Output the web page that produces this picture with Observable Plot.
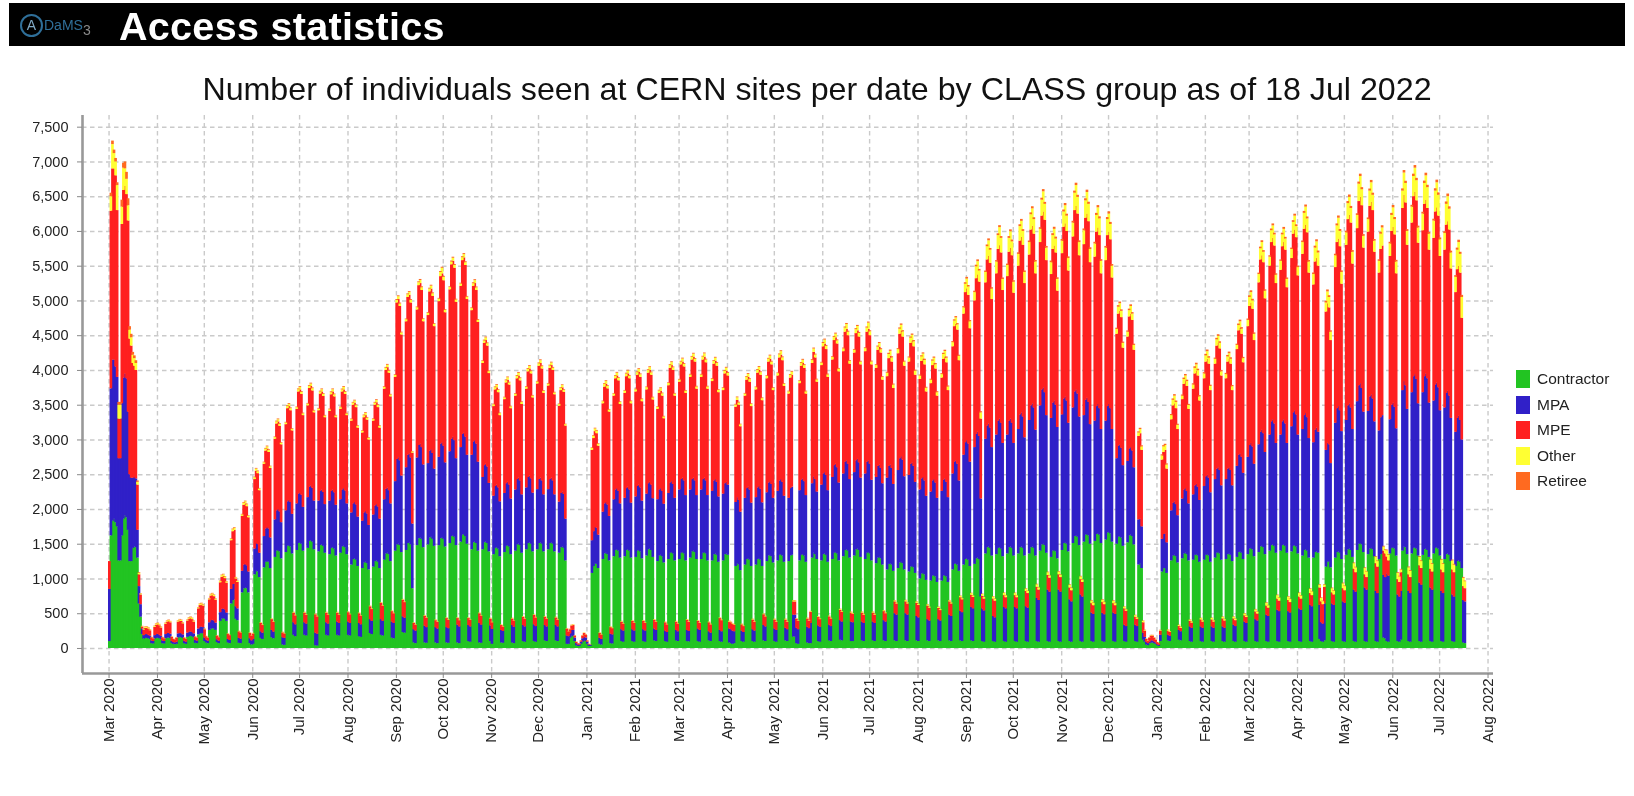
<!DOCTYPE html>
<html><head><meta charset="utf-8">
<script src="https://cdn.jsdelivr.net/npm/d3@7"></script>
<script src="https://cdn.jsdelivr.net/npm/@observablehq/plot@0.6"></script>
<style>
html,body{margin:0;padding:0;background:#fff;overflow:hidden;font-family:"Liberation Sans",Arial,sans-serif}
#page{position:relative;width:1634px;height:796px;filter:blur(.45px)}
#bar{position:absolute;left:9px;top:3px;width:1616px;height:43px;background:#000;color:#fff}
#bar .t{position:absolute;left:110px;top:1px;font-size:39.5px;font-weight:bold;line-height:45px;letter-spacing:.3px}
#logo{position:absolute;left:11px;top:11px;width:19px;height:19px;border:2px solid #2f6f99;border-radius:50%;color:#7fa8c4;font-size:14px;line-height:19px;text-align:center;box-sizing:content-box}
#dams{position:absolute;left:35px;top:13px;color:#2f6f99;font-size:14px;line-height:18px}
#dams sub{font-size:14px;color:#8a8a8a;vertical-align:-5px;line-height:0}
#title{position:absolute;left:0;width:1634px;top:70px;text-align:center;font-size:32.2px;line-height:38px;color:#111}
#chart{position:absolute;left:0;top:100px}
#legend{position:absolute;left:1516px;top:370px;font-size:15.5px;color:#222}
#legend div{position:relative;height:25.5px;line-height:18px;padding-left:21px}
#legend i{position:absolute;left:0;top:0;width:14px;height:18px}
</style></head><body><div id="page">
<div id="bar"><div id="logo">A</div><div id="dams">DaMS<sub>3</sub></div><div class="t">Access statistics</div></div>
<div id="title">Number of individuals seen at CERN sites per date by CLASS group as of 18 Jul 2022</div>
<div id="chart"></div><div id="legend"></div></div>
<script>
const groups=["Contractor","MPA","MPE","Other","Retiree"];
const colors=["#22c422","#3020c8","#ff2020","#ffff33","#ff6a20"];
// Daily head counts from Sun 1 Mar 2020; after the first value each row is one Mon..Sun week.
const contractor=[100,
1620,1830,1860,1810,1750,1260,1260,
1620,1860,1910,1880,1700,1250,1250,
1440,1460,1450,1300,640,450,200,
135,145,145,140,130,70,65,
135,145,148,142,130,70,65,
140,150,152,145,70,60,55,
60,150,160,158,145,70,60,
160,172,175,170,155,75,70,
195,212,215,210,100,80,70,
260,280,285,280,260,85,70,
390,425,430,420,390,80,70,
640,690,700,420,400,75,70,
800,860,870,860,800,70,50,
60,1060,1110,1100,1020,145,130,
1160,1240,1250,1240,1150,155,140,
1310,1400,1410,1390,1290,50,45,
1380,1470,1480,1460,1360,190,170,
1410,1510,1520,1500,1400,190,180,
1440,1540,1550,1530,1420,40,35,
1390,1480,1490,1470,1370,190,180,
1350,1440,1450,1430,1330,190,180,
1370,1460,1470,1450,1350,190,180,
1200,1280,1290,1270,1180,170,160,
1150,1230,1240,1220,1130,215,200,
1170,1250,1260,1240,1150,190,180,
1270,1360,1370,1350,1250,150,140,
1400,1490,1500,1480,1380,230,220,
1410,1510,1520,1490,860,80,70,
1480,1580,1590,1570,1450,80,75,
1490,1590,1600,1570,1470,80,70,
1480,1580,1590,1570,1460,80,75,
1510,1610,1620,1600,1480,80,70,
1530,1630,1640,1610,1500,100,90,
1420,1520,1530,1510,1400,80,75,
1420,1520,1530,1510,1390,100,60,
1350,1440,1450,1430,1320,80,75,
1380,1470,1480,1460,1350,80,70,
1400,1490,1500,1480,1370,100,90,
1420,1510,1520,1500,1390,100,90,
1420,1510,1520,1500,1390,110,100,
1420,1510,1520,1500,1390,110,100,
1370,1450,1460,1440,1260,60,60,
150,175,170,100,40,30,30,
60,90,110,100,60,30,30,
1080,1180,1220,1210,1150,60,50,
1280,1360,1370,1350,1260,70,65,
1320,1410,1420,1400,1300,100,90,
1320,1410,1420,1400,1300,100,90,
1310,1400,1410,1390,1290,100,90,
1330,1420,1430,1410,1310,110,100,
1250,1330,1340,1320,1230,100,90,
1280,1370,1380,1360,1260,110,100,
1280,1370,1380,1360,1260,100,95,
1300,1390,1400,1380,1280,100,90,
1280,1370,1380,1360,1260,110,100,
1260,1350,1360,1340,1240,100,90,
1260,1350,1360,1340,80,70,60,
70,1180,1220,1200,1120,100,90,
1200,1280,1290,1270,1180,100,90,
1200,1280,1290,1270,1180,110,100,
1250,1330,1340,1320,1230,100,90,
1260,1340,1350,1330,1240,110,100,
1250,1330,1340,165,165,70,60,
1260,1340,1350,1330,1240,80,70,
70,1300,1370,1350,1280,100,90,
1260,1350,1360,1340,1240,110,100,
1280,1370,1380,1360,1260,120,110,
1320,1410,1420,1400,1300,100,100,
1330,1420,1430,1410,1310,110,100,
1280,1370,1380,1360,1260,110,100,
1220,1300,1310,1290,1200,110,100,
1130,1210,1220,1200,1110,110,100,
1150,1230,1240,1220,1130,110,100,
1100,1170,1180,1160,1080,110,100,
1000,1070,1080,1060,980,110,100,
970,1040,1050,1030,950,110,100,
970,1040,1050,1030,950,110,100,
1130,1210,1220,1200,1110,110,100,
1200,1280,1290,1270,1180,110,100,
1210,1290,1300,1280,740,100,90,
1360,1450,1460,1440,1330,100,90,
1350,1440,1450,1430,1320,100,90,
1360,1450,1460,1440,1330,100,90,
1360,1450,1460,1440,1330,100,90,
1360,1450,1460,1440,1330,100,90,
1400,1490,1500,1480,1370,100,90,
1310,1400,1410,1390,1290,100,90,
1410,1510,1520,1500,1390,100,90,
1510,1610,1620,1600,1480,100,90,
1530,1630,1640,1620,1500,100,90,
1540,1640,1650,1630,1510,100,90,
1560,1660,1670,1650,1530,100,90,
1500,1600,1610,1590,1470,100,90,
1520,1620,1630,1610,1490,100,90,
1200,1220,1150,120,90,50,40,
70,80,80,70,60,40,30,
100,1100,1150,1150,1080,110,100,
1260,1330,1340,1320,1230,120,110,
1290,1360,1370,1350,1260,100,90,
1270,1340,1350,1330,1240,100,90,
1270,1340,1350,1330,1240,100,90,
1300,1370,1380,1360,1270,100,90,
1280,1350,1360,1340,1250,100,90,
1310,1380,1390,1370,1280,100,90,
1350,1430,1440,1420,1320,100,90,
1380,1460,1470,1450,1350,100,90,
1400,1480,1490,1470,1370,100,90,
1400,1480,1490,1470,1370,100,90,
1390,1470,1480,1460,1360,100,90,
1330,1410,1420,1400,1300,100,90,
1300,1380,1390,1370,130,100,90,
110,1170,1240,1250,1160,100,90,
1300,1380,1390,1370,1280,100,90,
1340,1420,1430,1410,1310,100,90,
1410,1500,1510,1490,1380,100,90,
1350,1430,1440,1420,1320,100,90,
1280,1350,1360,150,140,100,90,
1360,1440,1450,1430,1330,100,90,
120,1400,1460,1450,1350,100,90,
1360,1440,1450,1430,1330,100,90,
1340,1420,1430,1410,1310,100,90,
1360,1440,1450,1430,1330,100,90,
1280,1350,1360,1340,1250,100,90,
1180,1250,1260,1240,1150,80,70];
const mpa=[750,
2115,2320,2290,2240,2150,1470,1470,
1900,2030,2040,2000,1700,1250,1200,
1010,1000,990,400,250,180,80,
50,55,55,50,45,40,35,
50,55,55,50,45,40,35,
60,65,65,60,30,25,25,
30,60,55,55,50,35,30,
60,65,65,60,55,40,35,
85,95,95,90,50,40,35,
110,120,120,115,105,40,35,
125,140,140,135,120,50,45,
210,230,230,180,170,70,65,
310,340,340,330,300,70,60,
70,370,400,395,350,95,90,
450,480,490,480,440,105,95,
540,580,590,575,520,105,100,
600,640,650,640,570,180,170,
670,710,720,705,630,180,170,
730,780,790,775,700,180,170,
730,780,790,775,700,180,170,
770,820,830,810,730,190,180,
770,820,830,815,730,190,180,
750,800,810,795,710,190,180,
680,720,730,715,640,200,190,
750,800,810,795,710,225,210,
870,930,940,920,830,230,220,
1000,1230,1245,1220,1100,225,215,
1190,1270,1280,1250,930,190,180,
1260,1340,1350,1320,1190,240,225,
1170,1250,1260,1235,1110,220,210,
1270,1360,1370,1340,1210,220,210,
1320,1400,1420,1390,1250,255,240,
1360,1450,1460,1430,1280,230,220,
1360,1450,1460,1430,1280,280,260,
1040,1110,1120,1100,985,225,215,
840,890,900,880,790,180,170,
850,900,910,890,800,250,235,
880,940,950,930,840,230,220,
890,950,960,940,845,240,225,
865,920,930,910,820,220,210,
865,920,930,910,820,220,210,
735,780,790,775,600,120,110,
60,85,90,50,30,20,20,
30,50,55,50,30,20,15,
470,500,520,520,480,85,80,
680,720,730,715,640,135,130,
820,870,880,860,780,170,160,
840,890,900,880,790,170,160,
870,930,940,920,830,170,160,
890,950,960,940,845,170,160,
890,950,960,940,845,150,140,
950,1010,1020,1000,900,150,140,
1000,1060,1070,1050,940,160,150,
980,1040,1050,1030,920,180,170,
1000,1060,1070,1050,940,130,120,
1000,1060,1070,1050,940,160,150,
960,1020,1030,1010,200,200,190,
170,920,950,930,840,150,140,
960,1020,1030,1010,910,170,160,
970,1030,1040,1020,915,220,210,
990,1050,1060,1040,930,180,170,
1000,1070,1080,1060,950,180,170,
910,970,980,315,315,220,210,
1010,1080,1090,1070,960,225,215,
290,1070,1100,1080,970,225,215,
1090,1160,1170,1150,1030,225,215,
1180,1260,1270,1240,1120,280,270,
1190,1270,1280,1250,1130,280,270,
1200,1280,1290,1260,1140,270,260,
1230,1310,1320,1290,1160,270,260,
1240,1320,1330,1300,1170,290,280,
1320,1410,1420,1390,1250,390,380,
1410,1500,1520,1490,1340,390,380,
1390,1480,1490,1460,1310,350,340,
1280,1370,1380,1350,1210,305,295,
1280,1370,1380,1350,1210,305,295,
1290,1380,1390,1360,1220,370,360,
1380,1470,1480,1450,1300,425,415,
1580,1680,1700,1670,1500,480,470,
1680,1790,1810,1770,1410,470,450,
1650,1750,1770,1730,1560,360,350,
1720,1830,1850,1810,1630,490,480,
1710,1820,1840,1800,1620,490,480,
1790,1910,1930,1890,1700,500,490,
1920,2040,2060,2020,1810,620,600,
2090,2230,2250,2200,1980,740,720,
2000,2130,2150,2110,1890,740,720,
1950,2080,2100,2060,1850,600,580,
1950,2080,2100,2060,1850,670,650,
1820,1940,1960,1920,1720,410,400,
1730,1840,1860,1820,1640,405,395,
1710,1820,1840,1800,1620,410,400,
1230,1310,1320,1290,1160,235,225,
1170,1250,1260,1230,1110,235,225,
650,640,600,100,70,40,30,
20,30,30,25,20,15,15,
90,470,490,500,440,80,75,
720,760,770,750,680,140,130,
860,920,930,910,820,210,200,
940,1000,1010,990,890,210,200,
1060,1130,1140,1120,1000,210,200,
1130,1210,1220,1200,1070,210,200,
1150,1230,1240,1220,1090,235,225,
1310,1400,1410,1380,1240,280,270,
1400,1490,1510,1480,1330,315,305,
1550,1650,1670,1640,1470,380,370,
1670,1780,1800,1760,1580,450,440,
1670,1780,1800,1760,1580,430,420,
1800,1920,1940,1900,1710,470,460,
1820,1940,1960,1920,1720,520,510,
1660,1760,1780,1740,490,270,260,
530,1680,1710,1680,1500,540,530,
1940,2070,2090,2050,1840,570,560,
1940,2070,2090,2050,1840,740,720,
2140,2280,2300,2250,2020,770,750,
2060,2190,2210,2170,1940,720,700,
1850,1970,1990,900,880,975,950,
1930,2060,2080,2040,1830,670,650,
700,2310,2380,2330,2090,720,700,
2320,2470,2490,2440,2190,840,820,
2340,2490,2520,2470,2220,770,750,
2200,2350,2370,2320,2090,720,700,
2180,2320,2340,2290,2060,670,650,
1930,2060,2080,2040,1850,610,600];
const mpe=[400,
2555,2750,2750,2750,2400,570,570,
2580,2700,2700,2650,2750,1950,1900,
1650,1600,1560,650,170,140,30,
80,90,90,90,80,45,40,
120,135,140,135,120,45,40,
150,165,170,165,60,45,40,
60,170,180,175,160,45,40,
175,185,190,185,170,50,45,
290,310,315,310,120,50,45,
330,355,360,350,330,55,50,
430,460,465,450,430,75,70,
700,760,770,400,380,95,90,
790,860,870,850,780,75,70,
80,1000,1040,1020,900,120,110,
1040,1120,1130,1100,1000,155,140,
1160,1250,1260,1230,1120,70,65,
1240,1340,1350,1320,1200,140,130,
1360,1470,1480,1450,1320,140,130,
1320,1420,1430,1400,1270,265,250,
1300,1400,1410,1380,1250,140,130,
1290,1390,1410,1380,1260,130,120,
1300,1410,1420,1390,1270,135,125,
1320,1420,1430,1400,1280,140,125,
1270,1370,1380,1350,1230,185,170,
1350,1450,1465,1430,1310,235,220,
1590,1710,1730,1690,1540,150,140,
1500,2250,2275,2220,2030,240,225,
2100,2270,2280,2230,1020,90,85,
2130,2300,2310,2260,2060,145,135,
2130,2290,2310,2260,2050,100,95,
2240,2410,2430,2380,2160,130,120,
2330,2510,2530,2480,2250,95,90,
2320,2500,2520,2470,2240,100,95,
2080,2240,2260,2210,2010,140,130,
1640,1760,1780,1740,1580,100,95,
1290,1390,1400,1370,1240,70,65,
1350,1450,1470,1440,1300,95,90,
1350,1450,1470,1440,1300,120,110,
1420,1520,1540,1510,1370,135,125,
1520,1630,1650,1610,1460,120,110,
1490,1600,1620,1590,1440,110,100,
1380,1480,1500,1470,1340,100,70,
60,65,70,30,20,15,15,
20,40,50,45,20,10,5,
1300,1340,1380,1360,1280,70,65,
1560,1680,1700,1670,1500,95,90,
1490,1600,1620,1590,1430,110,100,
1510,1610,1630,1600,1430,120,110,
1510,1600,1620,1590,1430,120,110,
1500,1590,1610,1580,1420,125,115,
1300,1390,1400,1370,1230,120,110,
1550,1650,1670,1640,1470,120,110,
1550,1650,1670,1640,1470,145,135,
1620,1720,1740,1710,1530,110,100,
1620,1720,1740,1700,1530,130,120,
1580,1680,1700,1670,1500,170,160,
1490,1580,1600,1570,100,100,95,
95,1370,1400,1370,1230,90,85,
1470,1560,1580,1550,1390,140,130,
1550,1650,1670,1640,1470,155,145,
1640,1740,1760,1720,1550,130,120,
1660,1770,1790,1750,1580,120,110,
1500,1590,1610,190,190,130,120,
1540,1640,1660,1630,1460,120,110,
160,1730,1790,1750,1580,120,110,
1720,1830,1850,1810,1630,120,110,
1690,1800,1820,1780,1600,150,140,
1760,1870,1890,1850,1660,130,120,
1720,1830,1850,1810,1630,130,120,
1760,1870,1890,1850,1660,130,120,
1570,1670,1690,1660,1490,130,120,
1460,1550,1565,1530,1380,170,160,
1680,1790,1805,1770,1590,170,160,
1630,1740,1755,1720,1540,190,180,
1590,1690,1705,1670,1500,195,185,
1560,1660,1675,1640,1470,160,150,
1630,1740,1755,1720,1540,190,180,
1830,1950,1965,1930,1730,195,185,
2030,2160,2185,2140,1920,175,165,
2110,2240,2265,2220,1150,180,170,
2250,2390,2415,2370,2130,250,240,
2320,2470,2495,2450,2200,170,160,
2280,2430,2455,2410,2160,170,160,
2350,2500,2525,2470,2220,220,210,
2380,2530,2555,2500,2250,160,150,
2350,2500,2530,2480,2230,210,200,
2070,2210,2230,2190,1960,220,210,
2320,2470,2490,2440,2190,170,160,
2460,2610,2640,2590,2320,220,210,
2460,2620,2650,2600,2330,135,125,
2360,2510,2540,2490,2240,155,145,
2310,2460,2480,2430,2180,135,125,
1790,1900,1920,1880,1690,235,220,
1790,1900,1920,1880,1690,115,105,
1200,1230,1100,150,90,40,30,
60,70,70,55,40,30,25,
60,1140,1180,1200,1060,60,55,
1310,1400,1410,1380,1240,55,50,
1430,1520,1540,1510,1360,80,75,
1520,1610,1630,1600,1430,100,90,
1550,1650,1670,1640,1470,100,90,
1660,1770,1790,1750,1580,115,105,
1450,1540,1560,1530,1370,90,85,
1680,1790,1810,1770,1590,90,85,
1880,2000,2020,1980,1780,110,100,
2330,2480,2510,2460,2210,130,120,
2430,2580,2610,2560,2300,160,150,
2370,2520,2550,2500,2240,160,150,
2420,2570,2600,2550,2290,170,160,
2520,2680,2710,2660,2380,170,160,
2270,2420,2440,2390,250,300,280,
240,1990,2010,1970,1770,160,150,
2240,2390,2410,2360,2120,190,180,
2520,2680,2710,2660,2380,300,280,
2490,2650,2680,2630,2360,190,180,
2580,2740,2770,2710,2440,400,380,
2270,2420,2440,350,340,240,220,
2350,2500,2530,2480,2230,220,210,
270,2620,2680,2630,2360,240,230,
2440,2590,2620,2570,2310,250,240,
2330,2480,2500,2450,2200,270,260,
2340,2490,2520,2470,2220,310,300,
2270,2420,2440,2390,2150,360,350,
2010,2140,2160,2120,1750,200,190];
const other=[0,
210,350,220,200,360,200,200,
250,320,250,220,220,130,120,
120,110,100,40,20,15,8,
10,14,15,14,10,4,4,
12,15,15,14,12,4,4,
12,14,15,14,6,4,3,
5,14,16,15,12,4,4,
12,15,16,15,12,5,4,
14,18,18,16,8,5,4,
14,18,20,18,14,5,4,
18,22,24,22,18,5,4,
20,28,28,16,14,6,5,
22,28,30,28,22,6,5,
6,26,30,28,24,8,7,
22,28,30,28,24,8,7,
24,30,30,28,24,6,5,
24,30,32,30,24,8,8,
24,32,34,30,26,8,8,
26,32,34,32,26,8,8,
24,30,32,30,24,8,7,
24,30,32,30,24,8,7,
24,30,34,30,24,8,7,
22,30,30,28,24,8,7,
22,28,30,28,22,8,8,
24,30,32,30,24,8,7,
26,32,34,30,26,8,7,
28,36,40,36,30,8,8,
30,38,40,36,18,7,6,
32,42,44,40,32,8,7,
32,40,42,38,32,8,7,
36,60,80,50,34,8,7,
32,40,44,40,34,8,7,
34,42,46,40,34,8,7,
30,38,42,38,30,8,7,
28,34,38,34,28,8,7,
26,32,34,32,28,7,6,
26,32,34,30,26,7,6,
26,34,38,32,28,8,7,
28,34,36,32,26,8,7,
28,36,40,34,28,8,7,
28,34,36,32,26,8,7,
24,30,32,28,20,6,5,
6,8,8,5,3,2,2,
3,5,6,5,3,2,1,
28,34,38,36,30,7,6,
30,38,40,36,30,8,7,
30,36,40,36,30,8,7,
32,38,40,36,30,8,7,
32,38,42,38,30,9,8,
32,38,40,36,30,8,8,
28,34,38,34,26,8,7,
32,40,42,38,30,8,7,
32,40,44,38,32,9,8,
34,40,44,40,32,9,8,
34,42,48,40,32,9,8,
32,40,46,40,32,9,8,
32,38,42,38,10,8,7,
8,32,36,32,28,8,7,
30,38,42,38,30,9,8,
32,40,44,38,30,9,8,
34,42,46,40,32,10,9,
34,44,50,42,32,10,9,
32,40,44,14,14,8,8,
32,40,46,40,32,10,9,
10,42,48,42,34,10,9,
36,48,56,46,36,10,9,
36,46,52,46,38,12,10,
40,60,70,50,40,12,10,
40,56,62,52,40,12,10,
44,60,90,56,42,12,11,
40,46,56,48,38,12,10,
50,60,70,60,50,14,12,
60,74,84,74,60,18,16,
60,74,80,72,60,18,16,
50,64,70,64,54,16,14,
50,64,70,62,50,16,14,
50,70,78,66,52,16,14,
60,80,90,76,64,20,16,
90,120,140,120,100,24,20,
120,170,190,160,90,26,22,
150,190,220,190,150,30,26,
170,200,260,210,160,32,28,
160,200,240,200,160,30,28,
170,210,230,200,160,34,30,
180,220,250,210,170,36,32,
190,230,290,230,180,40,34,
170,200,240,200,170,40,34,
180,220,260,220,180,38,32,
200,250,300,240,190,40,36,
200,250,310,250,190,38,34,
190,240,290,240,180,34,30,
180,230,260,220,170,34,30,
70,100,110,90,70,24,22,
70,90,110,90,70,22,20,
50,60,50,20,10,6,6,
4,6,6,5,4,3,2,
8,60,80,70,60,14,12,
60,80,110,90,60,16,14,
50,70,80,70,56,18,16,
60,80,90,76,60,20,18,
70,90,110,86,60,22,18,
70,90,100,80,60,22,20,
60,74,80,70,56,24,20,
60,76,90,74,60,26,22,
90,130,150,120,90,30,26,
120,160,190,150,110,40,34,
130,170,180,160,120,50,44,
130,170,190,160,120,50,44,
130,170,200,160,120,50,44,
170,230,260,200,160,60,54,
150,200,240,190,40,50,44,
30,130,170,150,120,60,54,
170,240,300,220,170,70,60,
180,230,260,210,170,80,70,
190,250,300,230,170,90,80,
180,220,280,220,160,90,80,
170,220,260,60,50,90,80,
180,230,280,220,170,90,80,
40,250,320,280,200,100,90,
230,290,350,290,220,120,100,
240,300,350,300,230,130,110,
250,300,360,300,240,140,120,
240,300,360,300,230,130,110,
220,280,340,270,300,120,100];
const retiree=[0,
50,50,50,50,40,40,40,
100,70,100,100,100,50,50,
40,40,40,20,10,5,2,
5,6,7,6,5,2,2,
5,6,7,6,5,2,2,
5,6,7,6,3,2,2,
3,6,7,6,5,2,2,
5,7,7,6,5,2,2,
6,7,8,7,4,2,2,
6,8,8,7,6,2,2,
7,9,9,8,7,2,2,
8,10,10,6,6,3,2,
8,10,10,9,8,3,2,
3,10,11,10,9,3,3,
9,11,12,11,9,3,3,
9,11,12,11,10,3,2,
10,12,12,11,10,3,3,
10,12,13,12,10,3,3,
10,12,13,12,10,3,3,
10,12,12,11,10,3,3,
10,12,12,11,10,3,3,
10,12,13,12,10,3,3,
9,11,12,11,9,3,3,
9,11,12,11,9,3,3,
9,11,12,11,9,3,3,
10,12,13,12,10,3,3,
10,13,14,13,11,3,3,
10,13,14,13,6,3,3,
11,13,15,13,11,3,3,
11,13,14,13,11,3,3,
11,14,15,14,11,3,3,
11,14,15,14,11,3,3,
11,14,15,14,11,3,3,
10,13,14,13,11,3,3,
10,12,13,12,10,3,3,
9,11,12,11,9,3,2,
9,11,12,11,9,3,2,
10,12,13,12,10,3,3,
10,12,13,12,10,3,3,
10,12,13,12,10,3,3,
10,12,13,12,10,3,3,
8,10,11,10,7,2,2,
3,3,3,2,1,1,1,
1,2,2,2,1,1,1,
8,10,11,11,9,3,2,
9,11,12,11,9,3,3,
9,11,12,11,9,3,3,
10,12,13,12,10,3,3,
10,12,13,12,10,3,3,
10,12,13,12,10,3,3,
9,11,12,11,9,3,3,
10,12,13,12,10,3,3,
10,12,13,12,10,3,3,
10,12,13,12,10,3,3,
10,12,13,12,10,3,3,
10,12,13,12,10,3,3,
10,12,13,12,4,3,3,
3,11,12,11,9,3,3,
10,12,13,12,10,3,3,
10,12,13,12,10,3,3,
10,12,14,12,10,3,3,
10,13,14,13,10,3,3,
10,12,13,5,5,3,3,
10,13,14,13,10,3,3,
4,13,14,13,10,3,3,
11,14,15,14,11,4,3,
11,14,15,14,11,4,3,
12,15,16,15,12,4,4,
12,15,16,15,12,4,4,
12,15,16,15,12,4,4,
12,15,16,15,12,4,4,
14,17,18,17,14,5,4,
14,18,20,18,14,5,4,
14,18,19,18,14,5,4,
14,17,18,17,14,5,4,
14,17,18,17,14,5,4,
14,17,18,17,14,5,4,
15,18,20,18,15,5,5,
18,22,24,22,18,6,5,
20,24,26,24,16,6,5,
20,25,28,25,20,7,6,
20,26,28,26,20,7,6,
20,26,28,26,20,7,6,
22,26,28,26,21,7,6,
22,27,30,27,22,8,7,
24,28,32,28,24,8,7,
24,28,30,28,23,8,7,
24,28,32,28,24,8,7,
26,30,34,30,25,8,7,
26,30,34,30,25,8,7,
24,30,32,30,24,8,7,
24,30,32,30,24,8,7,
18,22,24,22,18,6,5,
18,22,24,22,18,6,5,
16,18,16,6,4,3,2,
2,3,3,2,2,1,1,
4,16,18,18,15,4,3,
16,20,22,20,16,4,4,
16,20,22,20,16,5,4,
18,22,24,22,18,5,5,
18,22,24,22,18,5,5,
18,22,24,22,18,6,5,
18,22,24,22,18,6,5,
18,22,24,22,18,6,5,
20,24,26,24,20,7,6,
20,24,26,24,20,8,7,
20,25,28,25,20,8,7,
20,25,28,25,20,8,7,
20,25,28,25,20,8,7,
22,28,30,28,22,9,8,
22,28,30,28,8,9,8,
8,25,28,25,20,9,8,
22,28,32,28,22,10,9,
24,30,34,30,24,10,9,
24,30,34,30,24,10,9,
24,30,34,30,24,10,9,
22,28,32,10,9,10,9,
24,30,34,30,24,10,9,
8,32,36,32,26,12,10,
26,34,38,34,26,12,10,
26,34,38,34,26,12,10,
26,34,38,34,26,12,10,
26,34,38,34,26,12,10,
24,30,34,30,30,12,10];
const series=[contractor,mpa,mpe,other,retiree];
const tickMonths=["Mar 2020","Apr 2020","May 2020","Jun 2020","Jul 2020","Aug 2020","Sep 2020","Oct 2020","Nov 2020","Dec 2020","Jan 2021","Feb 2021","Mar 2021","Apr 2021","May 2021","Jun 2021","Jul 2021","Aug 2021","Sep 2021","Oct 2021","Nov 2021","Dec 2021","Jan 2022","Feb 2022","Mar 2022","Apr 2022","May 2022","Jun 2022","Jul 2022","Aug 2022"];
const start=Date.UTC(2020,2,1);
const table=series.flatMap((vals,i)=>vals.map((v,d)=>({date:new Date(start+d*864e5),group:groups[i],value:v})));
const parseM=d3.utcParse("%b %Y");
const months=tickMonths.map(parseM);
const yticks=d3.range(0,7501,500);
const x0=new Date(Date.UTC(2020,1,13));
const gridStyle={stroke:"#cacaca",strokeOpacity:1,strokeWidth:1.4,strokeDasharray:"4.5 3.5"};
const plot=Plot.plot({width:1634,height:690,marginLeft:82,marginRight:141,marginTop:15,marginBottom:117,
 style:{fontFamily:"'Liberation Sans',Arial,sans-serif",background:"transparent"},
 x:{type:"utc",domain:[x0,new Date(Date.UTC(2022,7,4,12))]},
 y:{domain:[-360,7668]},
 color:{domain:groups,range:colors},
 marks:[
  Plot.gridY(yticks,gridStyle),
  Plot.gridX(months,gridStyle),
  Plot.rectY(table,{x:"date",interval:"day",y:"value",fill:"group",z:"group",order:null,insetLeft:-0.55,insetRight:-0.55}),
  Plot.ruleX([x0],{stroke:"#999",strokeWidth:2.6}),
  Plot.ruleY([-360],{stroke:"#999",strokeWidth:2.6}),
  Plot.axisY({ticks:yticks,tickFormat:d3.format(","),tickSize:5,tickPadding:9,fontSize:14.5,color:"#222",label:null,stroke:"#888"}),
  Plot.axisX({ticks:months,tickFormat:d3.utcFormat("%b %Y"),tickRotate:-90,tickSize:5,tickPadding:0,fontSize:15,color:"#222",label:null,stroke:"#888"})
 ]});
document.getElementById("chart").append(plot);
const L=document.getElementById("legend");
groups.forEach((g,i)=>{const d=document.createElement("div");const s=document.createElement("i");s.style.background=colors[i];d.append(s,g);L.append(d)});
</script></body></html>
